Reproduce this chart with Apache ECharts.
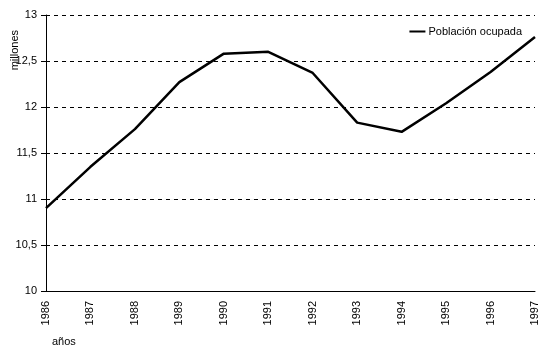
<!DOCTYPE html>
<html>
<head>
<meta charset="utf-8">
<script src="https://cdn.jsdelivr.net/npm/echarts@6/dist/echarts.min.js"></script>
<style>html,body{margin:0;padding:0;background:#fff;}#c{width:552px;height:357px;}</style>
</head>
<body>
<div id="c"></div>
<script>
const years = ['1986','1987','1988','1989','1990','1991','1992','1993','1994','1995','1996','1997'];
const poblacionOcupada = [10.90, 11.35, 11.76, 12.27, 12.58, 12.60, 12.37, 11.83, 11.73, 12.04, 12.38, 12.76];
const seriesName = 'Población ocupada';
const yAxisTitle = 'millones';
const xAxisTitle = 'años';

const FONT = 'Liberation Sans';
const chart = echarts.init(document.getElementById('c'), null, {renderer: 'canvas'});
chart.setOption({
  animation: false,
  backgroundColor: '#fff',
  grid: {left: 46, right: 17, top: 15, bottom: 66, containLabel: false},
  legend: {
    data: [seriesName], right: 25, top: 21, itemWidth: 16, itemHeight: 2, itemGap: 0,
    icon: 'rect',
    textStyle: {fontFamily: FONT, fontSize: 11, color: '#000', padding: [0,0,0,-2]}
  },
  xAxis: {
    type: 'category', data: years, boundaryGap: false,
    axisLine: {lineStyle: {color: '#000', width: 1}},
    axisTick: {show: false},
    axisLabel: {rotate: 90, margin: 10, fontFamily: FONT, fontSize: 11, color: '#000'},
    splitLine: {show: false}
  },
  yAxis: {
    type: 'value', min: 10, max: 13, interval: 0.5,
    axisLine: {show: true, lineStyle: {color: '#000', width: 1}},
    axisTick: {show: true, length: 5, lineStyle: {color: '#000'}},
    axisLabel: {margin: 9, fontFamily: FONT, fontSize: 11, color: '#000',
      formatter: v => String(v).replace('.', ',')},
    splitLine: {show: true, lineStyle: {color: '#000', type: [4, 4], width: 1}}
  },
  series: [{
    name: seriesName, type: 'line', data: poblacionOcupada,
    symbol: 'none', lineStyle: {color: '#000', width: 2.5}, itemStyle: {color: '#000'}
  }],
  graphic: [
    {type: 'text', left: 9, top: 30, rotation: Math.PI/2,
     style: {text: yAxisTitle, fontFamily: FONT, fontSize: 11, fill: '#000'}},
    {type: 'text', left: 52, top: 336,
     style: {text: xAxisTitle, fontFamily: FONT, fontSize: 11, fill: '#000'}}
  ]
});
</script>
</body>
</html>
